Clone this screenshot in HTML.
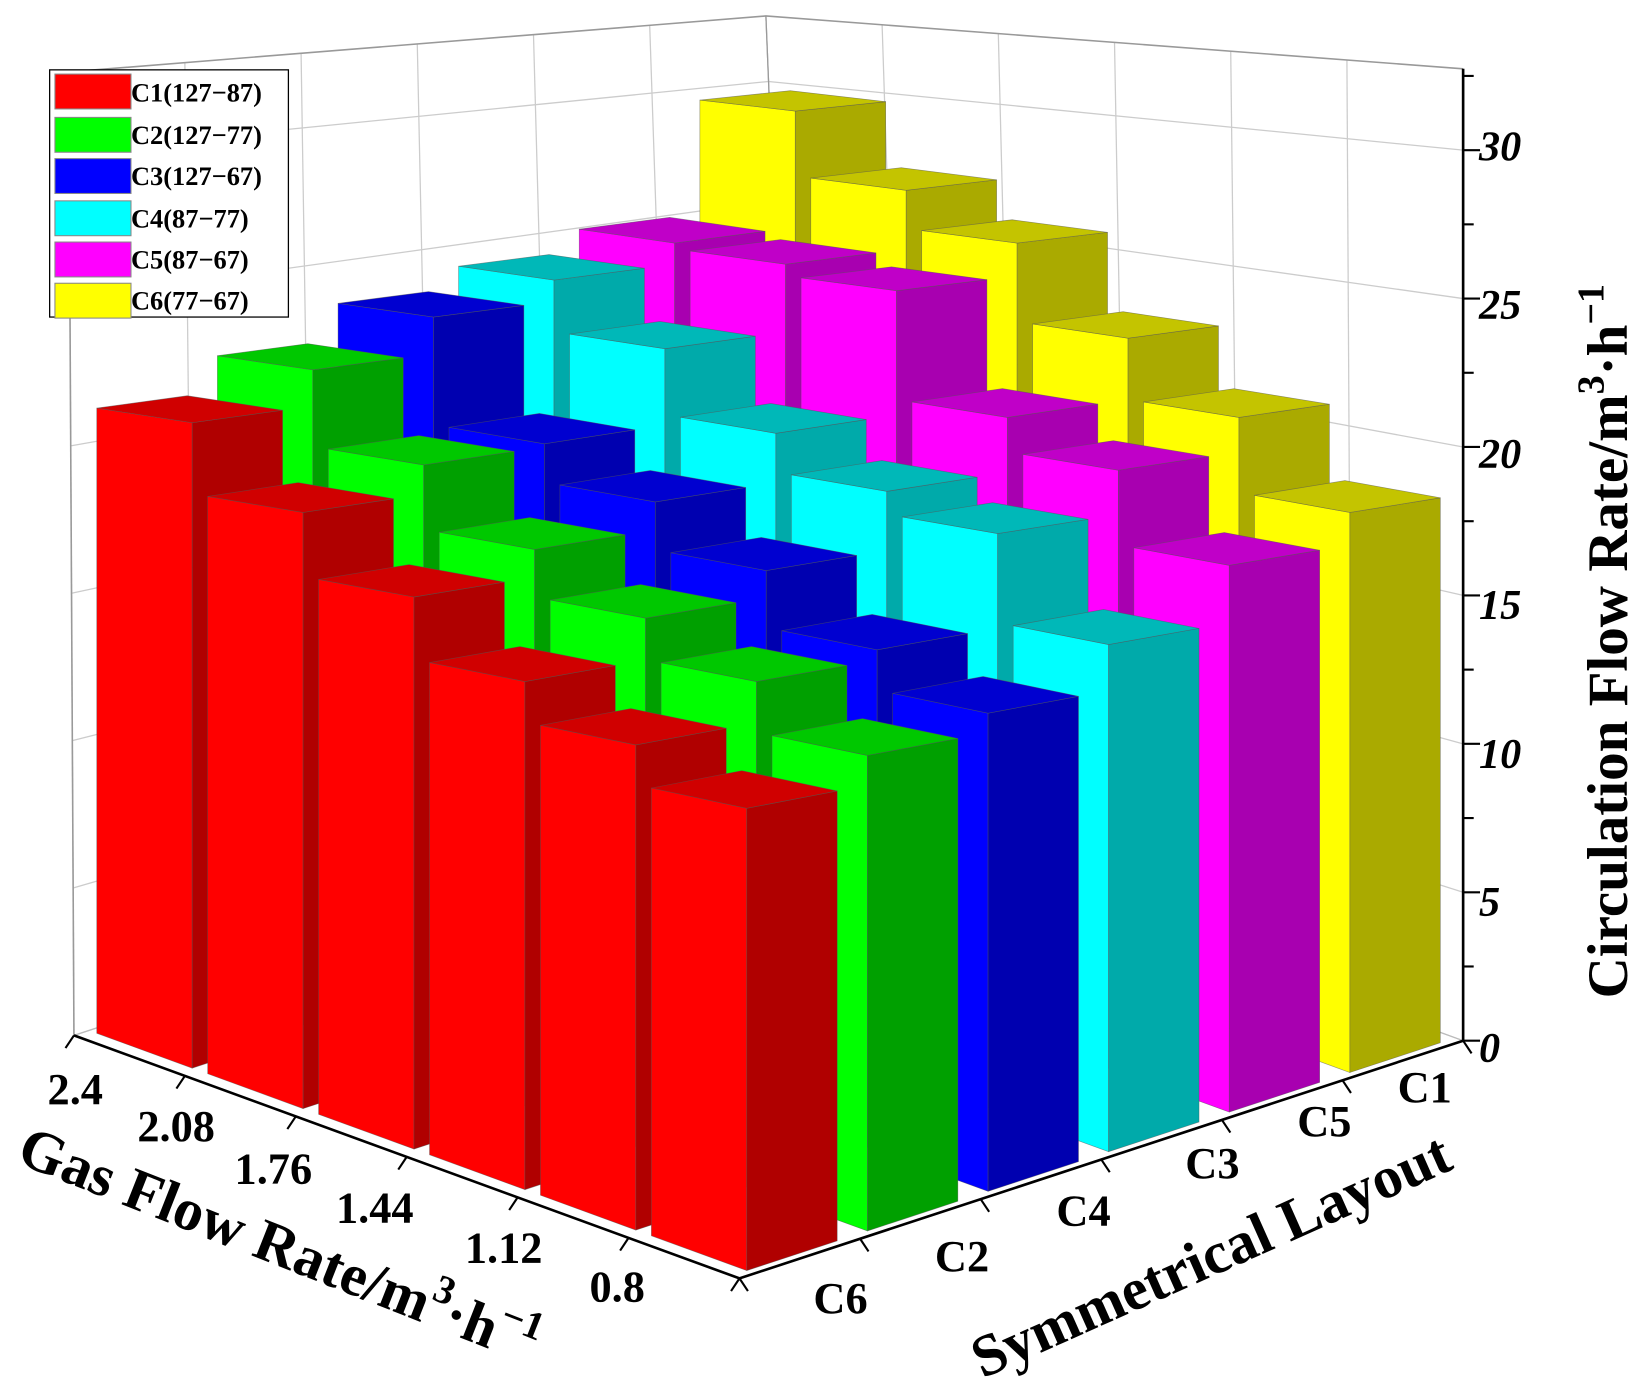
<!DOCTYPE html>
<html><head><meta charset="utf-8">
<style>
html,body{margin:0;padding:0;background:#fff;}
svg{display:block;}
text{font-family:"Liberation Serif",serif;font-weight:bold;fill:#000;}
</style></head>
<body>
<svg id="s" xmlns="http://www.w3.org/2000/svg" width="1648" height="1400" viewBox="0 0 1560 1325">
<g id="walls"></g>
<g id="bars"></g>
<g id="axes"></g>
<g>
<rect x="47" y="66" width="226" height="234" fill="#fff" stroke="#000" stroke-width="1.2"/>
<rect x="52" y="70" width="72" height="33" fill="#ff0000" stroke="#888"/>
<rect x="52" y="111" width="72" height="33" fill="#00ff00" stroke="#888"/>
<rect x="52" y="150" width="72" height="33" fill="#0000ff" stroke="#888"/>
<rect x="52" y="190" width="72" height="33" fill="#00ffff" stroke="#888"/>
<rect x="52" y="229" width="72" height="33" fill="#ff00ff" stroke="#888"/>
<rect x="52" y="268" width="72" height="33" fill="#ffff00" stroke="#888"/>
<g font-size="25">
<text x="124" y="96">C1(127−87)</text>
<text x="124" y="136">C2(127−77)</text>
<text x="124" y="175">C3(127−67)</text>
<text x="124" y="215">C4(87−77)</text>
<text x="124" y="254">C5(87−67)</text>
<text x="124" y="293">C6(77−67)</text>
</g>
</g>
<g font-size="40" font-style="italic">
<text x="1400" y="152">30</text>
<text x="1400" y="302">25</text>
<text x="1400" y="443">20</text>
<text x="1400" y="586">15</text>
<text x="1400" y="727">10</text>
<text x="1400" y="867">5</text>
<text x="1400" y="1005">0</text>
</g>
<text transform="translate(1540,945) rotate(-90)" font-size="54">Circulation Flow Rate/m<tspan dy="-22" font-size="36">3</tspan><tspan dy="22">·h</tspan><tspan dy="-22" font-size="36">−1</tspan></text>
<g font-size="42">
<text x="45" y="1045">2.4</text>
<text x="130" y="1080">2.08</text>
<text x="222" y="1120">1.76</text>
<text x="318" y="1157">1.44</text>
<text x="440" y="1195">1.12</text>
<text x="558" y="1232">0.8</text>
</g>
<text transform="translate(14,1100) rotate(21.5)" font-size="56">Gas Flow Rate/m<tspan dy="-24" font-size="38">3</tspan><tspan dy="24">·h</tspan><tspan dy="-24" font-size="38">−1</tspan></text>
<g font-size="42">
<text x="770" y="1243">C6</text>
<text x="885" y="1203">C2</text>
<text x="1000" y="1160">C4</text>
<text x="1122" y="1115">C3</text>
<text x="1228" y="1075">C5</text>
<text x="1323" y="1043">C1</text>
</g>
<text transform="translate(930,1305) rotate(-24)" font-size="56">Symmetrical Layout</text>
</svg>
<script>
var NS="http://www.w3.org/2000/svg";
var F=[700,1210],L=[70,980],R=[1385,985];
var GA=[L[0]-F[0],L[1]-F[1]],GB=[R[0]-F[0],R[1]-F[1]];
function fl(a,b){return [F[0]+a*GA[0]+b*GB[0],F[1]+a*GA[1]+b*GB[1]];}
var BK=fl(1,1);
function el(p,tag,at){var e=document.createElementNS(NS,tag);for(var q in at)e.setAttribute(q,at[q]);p.appendChild(e);return e;}
function pts(a){return a.map(function(p){return p[0].toFixed(1)+","+p[1].toFixed(1);}).join(" ");}
var W=document.getElementById("walls"),B=document.getElementById("bars"),A=document.getElementById("axes");
var ZT=32.7;
var Ltop=[65,68],BKtop=[725,15],Rtop=[1385,65];
for(var z=0;z<=30;z+=5){
  var yl=L[1]-z*27.9,yb=BK[1]-z*22.6,yr=R[1]-z*28.1;
  var xl=L[0]-5*z/ZT,xb=BK[0]-30*z/ZT,xr=R[0];
  el(W,"polyline",{points:pts([[xl,yl],[xb,yb],[xr,yr]]),fill:"none",stroke:"#ccc","stroke-width":1.2});
}
for(var t=0;t<=6;t++){
  var f=t/6;
  var bl=[L[0]+f*(BK[0]-L[0]),L[1]+f*(BK[1]-L[1])],tl=[Ltop[0]+f*(BKtop[0]-Ltop[0]),Ltop[1]+f*(BKtop[1]-Ltop[1])];
  el(W,"line",{x1:bl[0],y1:bl[1],x2:tl[0],y2:tl[1],stroke:"#ccc","stroke-width":1.2});
  var br=[BK[0]+f*(R[0]-BK[0]),BK[1]+f*(R[1]-BK[1])],tr=[BKtop[0]+f*(Rtop[0]-BKtop[0]),BKtop[1]+f*(Rtop[1]-BKtop[1])];
  el(W,"line",{x1:br[0],y1:br[1],x2:tr[0],y2:tr[1],stroke:"#ccc","stroke-width":1.2});
}
el(W,"polyline",{points:pts([Ltop,BKtop,Rtop]),fill:"none",stroke:"#999","stroke-width":1.5});
el(W,"polyline",{points:pts([L,Ltop]),fill:"none",stroke:"#999","stroke-width":1.5});
el(W,"polyline",{points:pts([L,BK,R]),fill:"none",stroke:"#bbb","stroke-width":1.2});
el(W,"line",{x1:BK[0],y1:BK[1],x2:BKtop[0],y2:BKtop[1],stroke:"#999","stroke-width":1.2});
var T=[
 [400,485,565,645,705,765],
 [350,440,520,585,645,715],
 [300,420,475,540,615,675],
 [265,330,410,465,505,610],
 [230,250,275,395,445,535],
 [105,180,230,320,395,485]];
var C=[["#ff0000","#b00000","#d00000"],["#00ff00","#00a000","#00c800"],["#0000ff","#0000b0","#0000d0"],
 ["#00ffff","#00aaaa","#00b8b8"],["#ff00ff","#a800b0","#c000c8"],["#ffff00","#aaaa00","#c4c400"]];
var wa=0.86/6,wb=0.75/6,list=[];
for(var j=0;j<6;j++)for(var i=0;i<6;i++){
  var ac=(5.5-i)/6,bc=(j+0.5)/6;list.push({i:i,j:j,a0:ac-wa/2,b0:bc-wb/2,d:ac+bc});
}
list.sort(function(x,y){return y.d-x.d;});
list.forEach(function(o){
  var c0=fl(o.a0,o.b0),cl=fl(o.a0+wa,o.b0),cr=fl(o.a0,o.b0+wb),cb=fl(o.a0+wa,o.b0+wb);
  var top=T[o.j][o.i];
  var h=c0[1]-top;
  var s=Math.max(0.25,1-h/1050);
  function u(p){return [p[0],top+(p[1]-c0[1])*s];}
  var col=C[o.j],st={stroke:"#555","stroke-width":0.6,"stroke-opacity":0.6};
  function poly(a,f){var at={points:pts(a),fill:f};for(var q in st)at[q]=st[q];el(B,"polygon",at);}
  poly([cl,c0,u(c0),u(cl)],col[0]);
  poly([c0,cr,u(cr),u(c0)],col[1]);
  poly([u(c0),u(cl),u(cb),u(cr)],col[2]);
});
el(A,"polyline",{points:pts([L,F,R]),fill:"none",stroke:"#000","stroke-width":2.5});
for(var t=0;t<=6;t++){
  var p=fl(t/6,0);el(A,"line",{x1:p[0],y1:p[1],x2:p[0]-8,y2:p[1]+12,stroke:"#000","stroke-width":2});
  var q=fl(0,t/6);el(A,"line",{x1:q[0],y1:q[1],x2:q[0]+8,y2:q[1]+12,stroke:"#000","stroke-width":2});
}
el(A,"line",{x1:R[0],y1:R[1],x2:Rtop[0],y2:Rtop[1],stroke:"#000","stroke-width":2.5});
for(var z=0;z<=32.5;z+=2.5){
  var y=R[1]-z*28.1;el(A,"line",{x1:R[0],y1:y,x2:R[0]+(z%5==0?16:10),y2:y,stroke:"#000","stroke-width":2});
}
</script>
</body></html>
